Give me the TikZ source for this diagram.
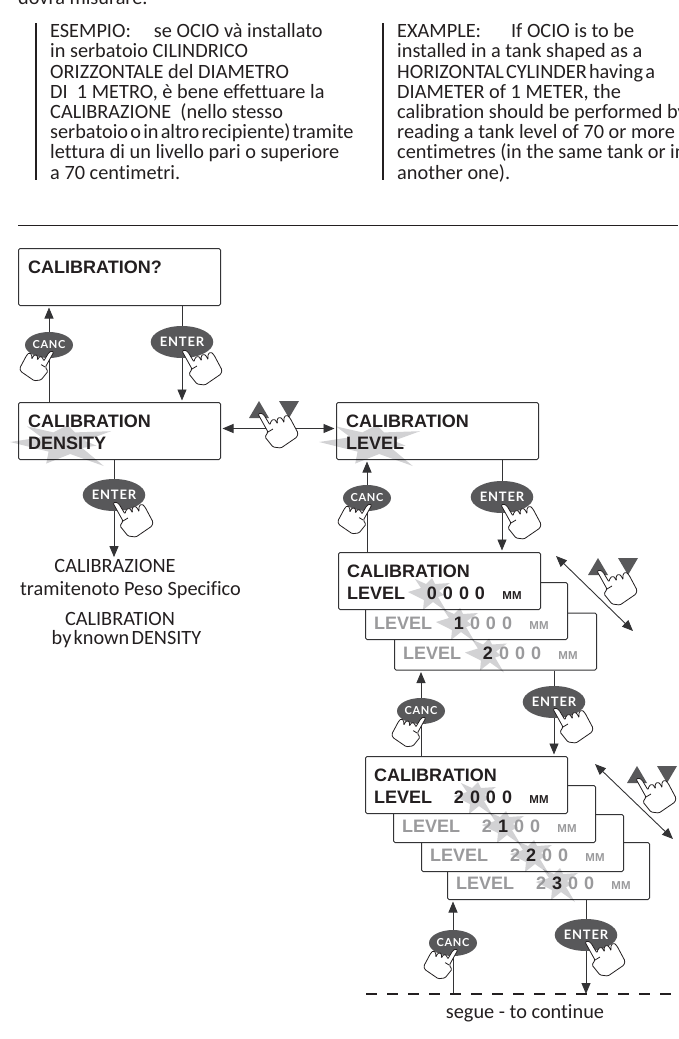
\documentclass[tikz,border=0pt]{standalone}
\usepackage{fontspec}
\usepackage{xcolor}
\usetikzlibrary{arrows.meta, calc, shapes.geometric}
\newfontfamily\bodyfont[Ligatures=NoCommon]{Carlito}
\newfontfamily\lcdfont{Liberation Sans}
\newfontfamily\enterfont[LetterSpace=6]{Lato}
\definecolor{inkblack}{HTML}{231F20}
\definecolor{lcdline}{HTML}{333335}
\definecolor{lcdgrey}{HTML}{9A9A9C}
\definecolor{keygrey}{HTML}{58585A}
\definecolor{burstgrey}{HTML}{D2D2D4}
\newcommand{\lit}[1]{\textcolor{inkblack}{#1}}
\newcommand{\tsp}{\hspace{2.2pt}}
\tikzset{
  lcdbox/.style={draw=lcdline, fill=white, line width=1pt, rounded corners=1.5pt,
    minimum width=202pt, minimum height=57pt, inner sep=0pt, anchor=north west},
  lcdtext/.style={font=\lcdfont\bfseries\fontsize{18}{20}\selectfont, inner sep=0pt, anchor=base west},
  unittext/.style={font=\lcdfont\bfseries\fontsize{11.5}{12}\selectfont, inner sep=0pt, anchor=base},
  bodytext/.style={font=\bodyfont\fontsize{20.3}{20.2}\selectfont, text=inkblack, inner sep=0pt, align=left, anchor=north west},
  centertext/.style={font=\bodyfont\fontsize{20.3}{20.2}\selectfont, text=inkblack, inner sep=0pt, anchor=base},
  enterkey/.style={ellipse, fill=keygrey, text=white, inner sep=0pt, minimum width=60pt, minimum height=32pt,
    font=\enterfont\bfseries\fontsize{13}{13}\selectfont},
  canckey/.style={ellipse, fill=keygrey, text=white, inner sep=0pt, minimum width=48pt, minimum height=26pt,
    font=\enterfont\bfseries\fontsize{11}{11}\selectfont},
  flow/.style={draw=lcdline, line width=0.9pt},
  flowtip/.style={flow, -{Triangle[length=11pt,width=9pt]}, shorten >=1.5pt},
  flowboth/.style={flow, {Triangle[length=11pt,width=9pt]}-{Triangle[length=11pt,width=9pt]}, shorten >=1.5pt, shorten <=1.5pt},
  pics/hand/.style={code={
    \draw[fill=white, draw=inkblack, line width=0.8pt, rounded corners=1.2pt]
      (-1,1) -- (2,0) -- (5,2) -- (11,12) -- (12,8) -- (15,6) -- (17,8) -- (18.5,11)
      -- (18,6) -- (21,4) -- (24,7) -- (25,10) -- (25,4) -- (28,2) -- (31,5) -- (39,20)
      -- (38,24) -- (22,35) -- (14,34) -- (6,24) -- (9,19) -- cycle;
    \draw[draw=inkblack, line width=0.8pt] (9,19) -- (14,16);
  }},
  pics/keyhand/.style={code={
    \fill[keygrey] (-10,5) -- (10,5) -- (0,-12) -- cycle;
    \fill[keygrey] (20,-12) -- (40,-12) -- (30,5) -- cycle;
    \pic {hand};
  }},
  pics/burst/.style={code={
    \fill[burstgrey, blend mode=multiply] (-22,0) -- (-9,-4) -- (-15,-13) -- (-4,-8) -- (2,-14) -- (5,-8) -- (20,-9)
      -- (9,-1) -- (14,3) -- (8,5) -- (17,20) -- (3,10) -- (-7,18) -- (-6,8) -- cycle;
  }},
}
% one LEVEL line of a display: box, colour, burst offset, four digits
\newcommand{\levelrow}[7]{
  \pic at ($(#1.north west)+(#3,40)$) {burst};
  \node[lcdtext, text=#2] (#1name) at ($(#1.north west)+(9,47)$) {LEVEL};
  \foreach \dx/\dg in {94/#4,110/#5,126/#6,142/#7}
    \node[lcdtext, anchor=base, text=#2] (#1dig\dx) at ($(#1.north west)+(\dx,47)$) {\dg};
  \node[unittext, text=#2] (#1unit) at ($(#1.north west)+(174,47)$) {MM};
}
\begin{document}
\begin{tikzpicture}[x=1pt, y=-1pt]
  \useasboundingbox (0,0) rectangle (678,1039);

  % text above the diagram
  \node[bodytext, anchor=base west] (leadin) at (18,4) {dovrà misurare.};
  \fill[inkblack] (34.5,23) rectangle (36.5,180);
  \fill[inkblack] (382,23) rectangle (384,180);
  \node[bodytext] (notesit) at (50,23.5) {ESEMPIO:\hspace{23pt}se OCIO và installato\\
    in serbatoio CILINDRICO\\ ORIZZONTALE del DIAMETRO\\ DI\ \ 1 METRO, è bene effettuare la\\
    CALIBRAZIONE\ \ (nello stesso\\
    serbatoio\tsp o\tsp in\tsp altro\tsp recipiente)\tsp tramite\\
    lettura di un livello pari o superiore\\ a 70 centimetri.};
  \node[bodytext] (notesen) at (397,23.5) {EXAMPLE:\hspace{30pt}If OCIO is to be\\
    installed in a tank shaped as a\\ HORIZONTAL\tsp CYLINDER\tsp having\tsp a\\ DIAMETER of 1 METER, the\\
    calibration should be performed by\\ reading a tank level of 70 or more\\
    centimetres (in the same tank or in\\ another one).};
  \draw[inkblack, line width=1pt] (18,225) -- (678,225);

  % displays, the ones behind first
  \node[lcdbox] (questbox) at (18,248) {};
  \node[lcdbox] (densbox) at (18,402) {};
  \node[lcdbox] (levelbox) at (336,402) {};
  \node[lcdbox] (zeroc) at (394,612.5) {};
  \node[lcdbox] (zerob) at (365,582) {};
  \node[lcdbox] (zeroa) at (338,552) {};
  \node[lcdbox] (hundd) at (447,842) {};
  \node[lcdbox] (hundc) at (421,814) {};
  \node[lcdbox] (hundb) at (393,785) {};
  \node[lcdbox] (hunda) at (365,756) {};

  \pic[xscale=2.4, yscale=1.2] at (63,442) {burst};
  \pic[xscale=2.4, yscale=1.2] at (372,442) {burst};

  \node[lcdtext, text=inkblack] (questname) at ($(questbox.north west)+(10,25)$) {CALIBRATION?};
  \node[lcdtext, text=inkblack] (densname) at ($(densbox.north west)+(10,25)$) {CALIBRATION};
  \node[lcdtext, text=inkblack] (densline) at ($(densbox.north west)+(10,47)$) {DENSITY};
  \node[lcdtext, text=inkblack] (levelname) at ($(levelbox.north west)+(10,25)$) {CALIBRATION};
  \node[lcdtext, text=inkblack] (levelline) at ($(levelbox.north west)+(10,47)$) {LEVEL};
  \node[lcdtext, text=inkblack] (zeroaname) at ($(zeroa.north west)+(9,25)$) {CALIBRATION};
  \node[lcdtext, text=inkblack] (hundaname) at ($(hunda.north west)+(9,25)$) {CALIBRATION};

  \levelrow{zeroa}{inkblack}{92}{0}{0}{0}{0}
  \levelrow{zerob}{lcdgrey}{93}{\lit{1}}{0}{0}{0}
  \levelrow{zeroc}{lcdgrey}{93}{\lit{2}}{0}{0}{0}
  \levelrow{hunda}{inkblack}{111}{2}{0}{0}{0}
  \levelrow{hundb}{lcdgrey}{111}{2}{\lit{1}}{0}{0}
  \levelrow{hundc}{lcdgrey}{111}{2}{\lit{2}}{0}{0}
  \levelrow{hundd}{lcdgrey}{111}{2}{\lit{3}}{0}{0}

  % keys on the connectors
  \node[canckey] (canca) at (49,345) {CANC};
  \node[enterkey] (entera) at (182,342) {ENTER};
  \node[enterkey] (enterb) at (114,495) {ENTER};
  \node[canckey] (cancb) at (367,498) {CANC};
  \node[enterkey] (enterc) at (502,497) {ENTER};
  \node[canckey] (cancc) at (421,711) {CANC};
  \node[enterkey] (enterd) at (554,702) {ENTER};
  \node[canckey] (cancd) at (453,943) {CANC};
  \node[enterkey] (entere) at (586,935) {ENTER};

  \coordinate (endl) at (366,994);
  \coordinate (endr) at (678,994);
  \node[centertext] (densresult) at (115,572) {CALIBRAZIONE};
  \node[centertext] (denswayit) at (130.5,595) {tramitenoto Peso Specifico};
  \node[centertext] (densresen) at (120,625) {CALIBRATION};
  \node[centertext] (denswayen) at (126.5,644) {by\tsp known\tsp DENSITY};
  \node[centertext] (nextpage) at (525,1018) {segue - to continue};

  \draw[flow] (canca |- densbox.north) -- (canca.south);
  \draw[flowtip] (canca.north) -- (canca |- questbox.south);
  \draw[flow] (entera |- questbox.south) -- (entera.north);
  \draw[flowtip] (entera.south) -- (entera |- densbox.north);
  \draw[flow] (enterb |- densbox.south) -- (enterb.north);
  \coordinate (densend) at (enterb |- densresult.north);
  \draw[flowtip] (enterb.south) -- (densend);
  \draw[flow] (cancb |- zeroa.north) -- (cancb.south);
  \draw[flowtip] (cancb.north) -- (cancb |- levelbox.south);
  \draw[flow] (enterc |- levelbox.south) -- (enterc.north);
  \draw[flowtip] (enterc.south) -- (enterc |- zeroa.north);
  \draw[flow] (cancc |- hunda.north) -- (cancc.south);
  \draw[flowtip] (cancc.north) -- (cancc |- zeroc.south);
  \draw[flow] (enterd |- zeroc.south) -- (enterd.north);
  \draw[flowtip] (enterd.south) -- (enterd |- hunda.north);
  \draw[flow] (cancd |- endl) -- (cancd.south);
  \draw[flowtip] (cancd.north) -- (cancd |- hundd.south);
  \draw[flow] (entere |- hundd.south) -- (entere.north);
  \draw[flowtip, shorten >=0pt] (entere.south) -- (entere |- endl);
  \draw[flowboth] ([yshift=2.5pt]densbox.east) -- ([yshift=2.5pt]levelbox.west);
  \coordinate (diagaa) at (556,556);
  \coordinate (diagab) at (633,631);
  \coordinate (diagba) at (595,764);
  \coordinate (diagbb) at (673,839);
  \draw[flowboth, shorten >=0pt, shorten <=0pt] (diagaa) -- (diagab);
  \draw[flowboth, shorten >=0pt, shorten <=0pt] (diagba) -- (diagbb);
  \draw[inkblack, line width=2.2pt, dash pattern=on 11pt off 10pt] (endl) -- (endr);

  % hands
  \pic[xscale=-0.85, yscale=0.85] at ([shift={(4,6)}]canca.center) {hand};
  \pic at ([shift={(1,8)}]entera.center) {hand};
  \pic at ([shift={(0,7)}]enterb.center) {hand};
  \pic[xscale=-0.85, yscale=0.85] at ([shift={(4,6)}]cancb.center) {hand};
  \pic at ([shift={(0,7)}]enterc.center) {hand};
  \pic[xscale=-0.85, yscale=0.85] at ([shift={(4,6)}]cancc.center) {hand};
  \pic at ([shift={(0,6)}]enterd.center) {hand};
  \pic[xscale=-0.85, yscale=0.85] at ([shift={(4,6)}]cancd.center) {hand};
  \pic at ([shift={(0,6)}]entere.center) {hand};
  \pic at (259,413) {keyhand};
  \pic at (598,570) {keyhand};
  \pic at (637,778) {keyhand};
\end{tikzpicture}
\end{document}
